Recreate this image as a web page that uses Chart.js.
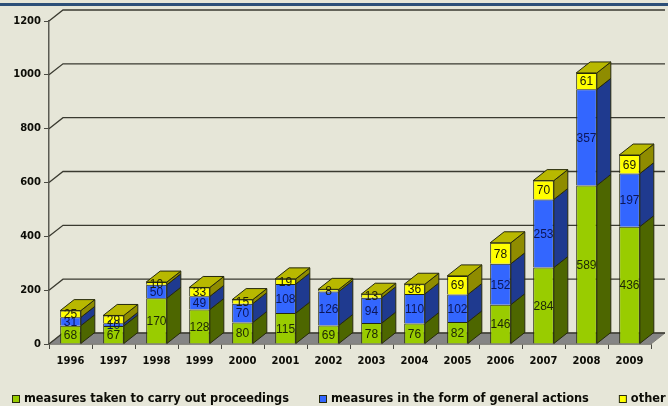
<!DOCTYPE html>
<html>
<head>
<meta charset="utf-8">
<script src="https://cdn.jsdelivr.net/npm/chart.js@4"></script>
<style>
html, body { margin: 0; padding: 0; background: #e6e6d8; overflow: hidden; }
#band { position: absolute; left: 0; top: 3px; width: 668px; height: 3px; background: #2c4f78; }
#wrap { position: absolute; left: 0; top: 0; width: 668px; height: 406px; filter: blur(0.4px); }
</style>
</head>
<body>
<div id="wrap"><canvas id="chart" width="668" height="406"></canvas></div>
<div id="band"></div>
<script>
const years = ['1996', '1997', '1998', '1999', '2000', '2001', '2002', '2003', '2004', '2005', '2006', '2007', '2008', '2009'];
const proceedings = [68, 67, 170, 128, 80, 115, 69, 78, 76, 82, 146, 284, 589, 436];
const generalActions = [31, 10, 50, 49, 70, 108, 126, 94, 110, 102, 152, 253, 357, 197];
const other = [25, 29, 10, 33, 15, 19, 8, 13, 36, 69, 78, 70, 61, 69];
const yTicks = [0, 200, 400, 600, 800, 1000, 1200];

const depthX = 14;
const depthY = 11;
const sideColors = ['#4d6600', '#1f3a8f', '#8f8c00'];
const labelColors = ['#1c2606', '#0c1658', '#20200a'];
const topColor = '#b8b800';
const edgeColor = '#26290c';

function poly(ctx, pts, fill) {
    ctx.beginPath();
    pts.forEach(function(p, i) {
        if (i === 0) ctx.moveTo(p[0], p[1]); else ctx.lineTo(p[0], p[1]);
    });
    ctx.closePath();
    if (fill) {
        ctx.fillStyle = fill;
        ctx.fill();
    }
    ctx.stroke();
}

// back wall lines and the grey floor
const wallPlugin = {
    id: 'wall',
    beforeDatasetsDraw: function(chart) {
        const ctx = chart.ctx;
        const area = chart.chartArea;
        const y = chart.scales.y;
        ctx.save();
        ctx.strokeStyle = '#807f78';
        ctx.lineWidth = 1;
        poly(ctx, [[area.left, area.bottom], [area.left + depthX, area.bottom - depthY],
            [area.right + depthX, area.bottom - depthY], [area.right, area.bottom]], '#858585');
        ctx.strokeStyle = '#3a3a30';
        ctx.lineWidth = 1.3;
        yTicks.forEach(function(v) {
            const py = y.getPixelForValue(v);
            ctx.beginPath();
            ctx.moveTo(area.left, py);
            ctx.lineTo(area.left + depthX, py - depthY);
            ctx.lineTo(area.right + depthX, py - depthY);
            ctx.stroke();
        });
        ctx.restore();
    }
};

// right faces, top faces and value labels of the bars
const depthPlugin = {
    id: 'depth',
    afterDatasetsDraw: function(chart) {
        const ctx = chart.ctx;
        const last = chart.data.datasets.length - 1;
        ctx.save();
        ctx.strokeStyle = edgeColor;
        ctx.lineWidth = 1;
        chart.data.datasets.forEach(function(ds, d) {
            chart.getDatasetMeta(d).data.forEach(function(bar) {
                const r = bar.x + bar.width / 2;
                const l = bar.x - bar.width / 2;
                poly(ctx, [[r, bar.y], [r + depthX, bar.y - depthY],
                    [r + depthX, bar.base - depthY], [r, bar.base]], sideColors[d]);
                if (d === last) {
                    poly(ctx, [[l, bar.y], [l + depthX, bar.y - depthY],
                        [r + depthX, bar.y - depthY], [r, bar.y]], topColor);
                }
            });
        });
        ctx.font = '12px "Liberation Sans"';
        ctx.textAlign = 'center';
        ctx.textBaseline = 'middle';
        chart.data.datasets.forEach(function(ds, d) {
            ctx.fillStyle = labelColors[d];
            chart.getDatasetMeta(d).data.forEach(function(bar, i) {
                ctx.fillText(ds.data[i], bar.x, (bar.y + bar.base) / 2 + 1);
            });
        });
        ctx.restore();
    }
};

// legend row, the built-in one cannot keep these gaps on a single line
const legendPlugin = {
    id: 'legendRow',
    afterDraw: function(chart) {
        const ctx = chart.ctx;
        let x = 12;
        ctx.save();
        ctx.font = 'bold 11.4px "DejaVu Sans"';
        ctx.textBaseline = 'middle';
        ctx.textAlign = 'left';
        ctx.strokeStyle = edgeColor;
        ctx.lineWidth = 1;
        chart.data.datasets.forEach(function(ds) {
            ctx.fillStyle = ds.backgroundColor;
            ctx.fillRect(x + 0.5, 395.5, 7, 7);
            ctx.strokeRect(x + 0.5, 395.5, 7, 7);
            ctx.fillStyle = '#0c0c06';
            ctx.fillText(ds.label, x + 12, 399);
            x += 12 + ctx.measureText(ds.label).width + 30;
        });
        ctx.restore();
    }
};

new Chart(document.getElementById('chart'), {
    type: 'bar',
    data: {
        labels: years,
        datasets: [
            { label: 'measures taken to carry out proceedings', data: proceedings, backgroundColor: '#99cc00' },
            { label: 'measures in the form of general actions', data: generalActions, backgroundColor: '#3366ff' },
            { label: 'other', data: other, backgroundColor: '#ffff00' }
        ].map(function(ds) {
            return Object.assign(ds, { borderColor: edgeColor, borderWidth: 1, barPercentage: 0.48, categoryPercentage: 1 });
        })
    },
    options: {
        responsive: false,
        animation: false,
        layout: { padding: { top: 21, right: 17, left: 0, bottom: 0 } },
        plugins: {
            tooltip: { enabled: false },
            legend: { display: false }
        },
        scales: {
            x: {
                stacked: true,
                afterFit: function(scale) { scale.height = 62; },
                grid: { offset: true, drawOnChartArea: false, tickLength: 5, color: '#4a4a42' },
                border: { color: '#4a4a42', width: 1.5 },
                ticks: { color: '#0c0c06', maxRotation: 0, padding: 6, font: { family: 'DejaVu Sans', weight: 'bold', size: 10 } }
            },
            y: {
                stacked: true,
                min: 0,
                max: 1200,
                afterFit: function(scale) { scale.width = 49; },
                afterBuildTicks: function(scale) { scale.ticks = yTicks.map(function(v) { return { value: v }; }); },
                grid: { drawOnChartArea: false, tickLength: 5, color: '#4a4a42' },
                border: { color: '#5a5a52', width: 1.5 },
                ticks: {
                    color: '#0c0c06',
                    padding: 3,
                    font: { family: 'DejaVu Sans', weight: 'bold', size: 10 },
                    callback: function(v) { return String(v); }
                }
            }
        }
    },
    plugins: [wallPlugin, depthPlugin, legendPlugin]
});
</script>
</body>
</html>
